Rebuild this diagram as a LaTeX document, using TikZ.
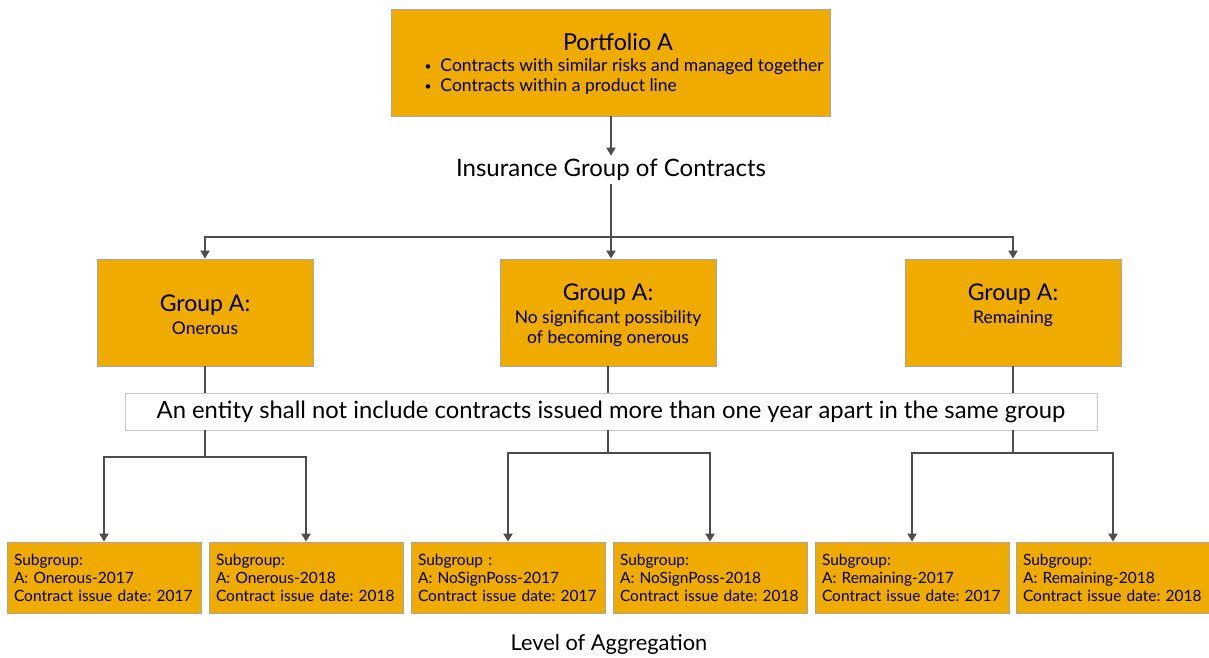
\documentclass[tikz,border=0pt]{standalone}
\usepackage{fontspec}
\setmainfont{Lato}
\usepackage{xcolor}
\usepackage{tikz}
\usetikzlibrary{arrows.meta}
\frenchspacing

\definecolor{gold}{HTML}{F0AB00}
\definecolor{edgegray}{HTML}{A6A6A6}
\definecolor{linkgray}{HTML}{4D4D4D}
\definecolor{rulegray}{HTML}{C8C8C8}

\newcommand{\grptitle}{\fontsize{23}{24}\selectfont Group A:}
\newcommand{\smallbullet}{\raisebox{1pt}{\fontsize{12}{12}\selectfont\textbullet}\hspace{9pt}}

\begin{document}
\begin{tikzpicture}[x=1pt,y=-1pt,
  goldbox/.style={draw=edgegray, fill=gold, line width=0.8pt, inner sep=0pt},
  grpbox/.style={goldbox, minimum width=216pt, minimum height=107pt},
  grptext/.style={align=center, font=\fontsize{17.5}{20}\selectfont},
  link/.style={draw=linkgray, line width=2.5pt},
  arr/.style={link, -{Triangle[length=8pt,width=9pt]}},
  subbox/.style={goldbox, minimum width=194pt, minimum height=71pt, text width=180pt,
    inner xsep=7pt, align=left, font=\fontsize{15.5}{18}\selectfont}]
  \useasboundingbox (0,0) rectangle (1209,657);

  % Portfolio
  \node[goldbox, minimum width=439pt, minimum height=107pt] (port) at (610.5,62.5) {};
  \node[font=\fontsize{23.3}{26}\selectfont] (portT) at (618,42) {Portfolio A};
  \node[anchor=west, align=left, font=\fontsize{17.5}{20}\selectfont] (portL) at (421,77)
    {\smallbullet Contracts with similar risks and managed together\\
     \smallbullet Contracts within a product line};

  % Insurance group
  \node[font=\fontsize{24}{26}\selectfont] (igc) at (611,170) {Insurance Group of Contracts};
  \draw[arr] (port.south -| igc) -- (igc);

  % Groups
  \node[grpbox] (grpA) at (205,312.5) {};
  \node[grpbox] (grpB) at (608,312.5) {};
  \node[grpbox] (grpC) at (1013,312.5) {};
  \node[grptext] (grpAt) at (205,315) {\grptitle\\[3pt]Onerous};
  \node[grptext] (grpBt) at (608,315)
    {\grptitle\\[3pt]No significant possibility\\of becoming onerous};
  \node[grptext] (grpCt) at (1013,305) {\grptitle\\[3pt]Remaining};
  \coordinate (split) at (igc |- 0,237);
  \draw[arr] (igc) -- (igc |- grpB.north);
  \draw[arr] (split) -| (grpA.north);
  \draw[arr] (split) -| (grpC.north);

  % Rule
  \node[draw=rulegray, fill=white, line width=0.8pt, minimum width=972pt, minimum height=37pt,
    inner sep=0pt, font=\fontsize{23.8}{26}\selectfont] (rule) at (611,411.5)
    {An entity shall not include contracts issued more than one year apart in the same group};
  \draw[link] (grpA) -- (grpA |- rule.north);
  \draw[link] (grpB) -- (grpB |- rule.north);
  \draw[link] (grpC) -- (grpC |- rule.north);

  % Subgroups
  \node[subbox] (subA1) at (104,577.5) {Subgroup:\\A: Onerous-2017\\Contract issue date: 2017};
  \node[subbox] (subA2) at (306,577.5) {Subgroup:\\A: Onerous-2018\\Contract issue date: 2018};
  \node[subbox] (subB1) at (508,577.5) {Subgroup :\\A: NoSignPoss-2017\\Contract issue date: 2017};
  \node[subbox] (subB2) at (710,577.5) {Subgroup:\\A: NoSignPoss-2018\\Contract issue date: 2018};
  \node[subbox] (subC1) at (912,577.5) {Subgroup:\\A: Remaining-2017\\Contract issue date: 2017};
  \node[subbox] (subC2) at (1113,577.5) {Subgroup:\\A: Remaining-2018\\Contract issue date: 2018};

  \coordinate (jA) at (205,457);
  \coordinate (jB) at (608,453);
  \coordinate (jC) at (1013,453);
  \draw[link] (grpA |- rule.south) -- (jA);
  \draw[link] (grpB |- rule.south) -- (jB);
  \draw[link] (grpC |- rule.south) -- (jC);
  \draw[arr] (jA) -| (subA1.north);
  \draw[arr] (jA) -| (subA2.north);
  \draw[arr] (jB) -| (subB1.north);
  \draw[arr] (jB) -| (subB2.north);
  \draw[arr] (jC) -| (subC1.north);
  \draw[arr] (jC) -| (subC2.north);

  % Caption
  \node[font=\fontsize{21.8}{24}\selectfont] (caption) at (609,644) {Level of Aggregation};
\end{tikzpicture}
\end{document}
